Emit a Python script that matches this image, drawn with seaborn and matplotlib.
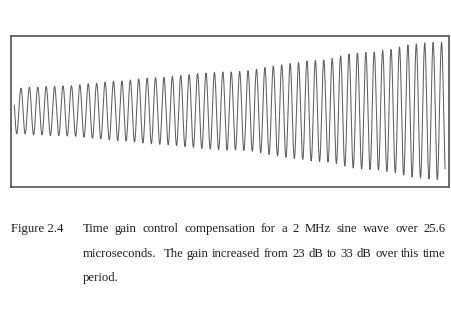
import numpy as np
import pandas as pd
import matplotlib
matplotlib.use("Agg")
import matplotlib.pyplot as plt
import seaborn as sns

freq_mhz = 2.0
duration_us = 25.6
start_phase_cycles = 0.46
# half peak-to-peak amplitude of each cycle (relative units)
cycle_amplitude = [22.8, 23.8, 23.8, 24.5, 24.6, 25.0, 25.3, 26.2, 27.2, 27.8, 28.8, 29.6,
                   30.0, 31.0, 32.0, 32.8, 33.3, 33.6, 34.5, 35.5, 36.3, 37.5, 38.0, 38.5, 39.0,
                   39.0, 39.5, 40.3, 41.7, 43.4, 45.0, 46.2, 47.5, 48.4, 50.0, 50.5,
                   51.0, 52.5, 55.0, 57.0, 58.0, 58.5, 59.0, 60.5, 61.5, 64.0, 66.0, 67.0,
                   68.0, 68.5, 68.5]
caption_label = "Figure 2.4"
caption_lines = [
    "Time gain control compensation for a 2 MHz sine wave over 25.6",
    "microseconds.  The gain increased from 23 dB to 33 dB over this time",
    "period.",
]

# ---- build the trace ----
t = np.linspace(0, duration_us, 8000)
theta = 2 * np.pi * (freq_mhz * t + start_phase_cycles)
amp = np.asarray(cycle_amplitude)
idx = np.clip(np.floor(theta / (2 * np.pi)).astype(int) - 1, 0, len(amp) - 1)
signal = amp[idx] * np.sin(theta)
df = pd.DataFrame({"time_us": t, "signal": signal})

sns.set_style("white")
plt.rcParams["font.family"] = ["Liberation Serif", "DejaVu Serif"]

W, H = 451, 327
fig = plt.figure(figsize=(W / 100, H / 100), dpi=100)
fig.patch.set_facecolor("white")

bx0, bx1, by0, by1 = 11.0, 448.5, 35.5, 186.5
ax = fig.add_axes([bx0 / W, 1 - by1 / H, (bx1 - bx0) / W, (by1 - by0) / H])
sns.lineplot(data=df, x="time_us", y="signal", ax=ax, color="#606060",
             linewidth=0.75, estimator=None, sort=False)

px_per_us = (445.0 - 14.3) / duration_us
ax.set_xlim(-(14.3 - bx0) / px_per_us, duration_us + (bx1 - 445.0) / px_per_us)
ax.set_ylim(-75.5, 75.5)
ax.set_xticks([])
ax.set_yticks([])
ax.set_xlabel("")
ax.set_ylabel("")
for s in ax.spines.values():
    s.set_visible(True)
    s.set_color("#444444")
    s.set_linewidth(1.1)

# ---- caption ----
fs = 9.2
fig.canvas.draw()
r = fig.canvas.get_renderer()


def place_line(text, x0, x1, ybase, justify=True):
    words = text.split(" ")
    objs = []
    for w in words:
        if w == "":
            objs.append(None)
            continue
        objs.append(fig.text(0, 1 - ybase / H, w, fontsize=fs, color="#1e1e1e",
                             va="baseline", ha="left"))
    widths = [o.get_window_extent(r).width if o is not None else 0.0 for o in objs]
    ngaps = len(words) - 1
    if justify and ngaps > 0:
        gap = (x1 - x0 - sum(widths)) / ngaps
    else:
        gap = 3.0
    x = x0
    for o, w in zip(objs, widths):
        if o is not None:
            o.set_x(x / W)
        x += w + gap


fig.text(11 / W, 1 - 232.3 / H, caption_label, fontsize=fs, color="#1e1e1e",
         va="baseline", ha="left")
bases = [232.3, 256.7, 280.5]
for i, (line, yb) in enumerate(zip(caption_lines, bases)):
    place_line(line, 82.7, 446.0, yb, justify=(i < len(caption_lines) - 1))

fig.savefig("out.png", dpi=100, facecolor="white")
